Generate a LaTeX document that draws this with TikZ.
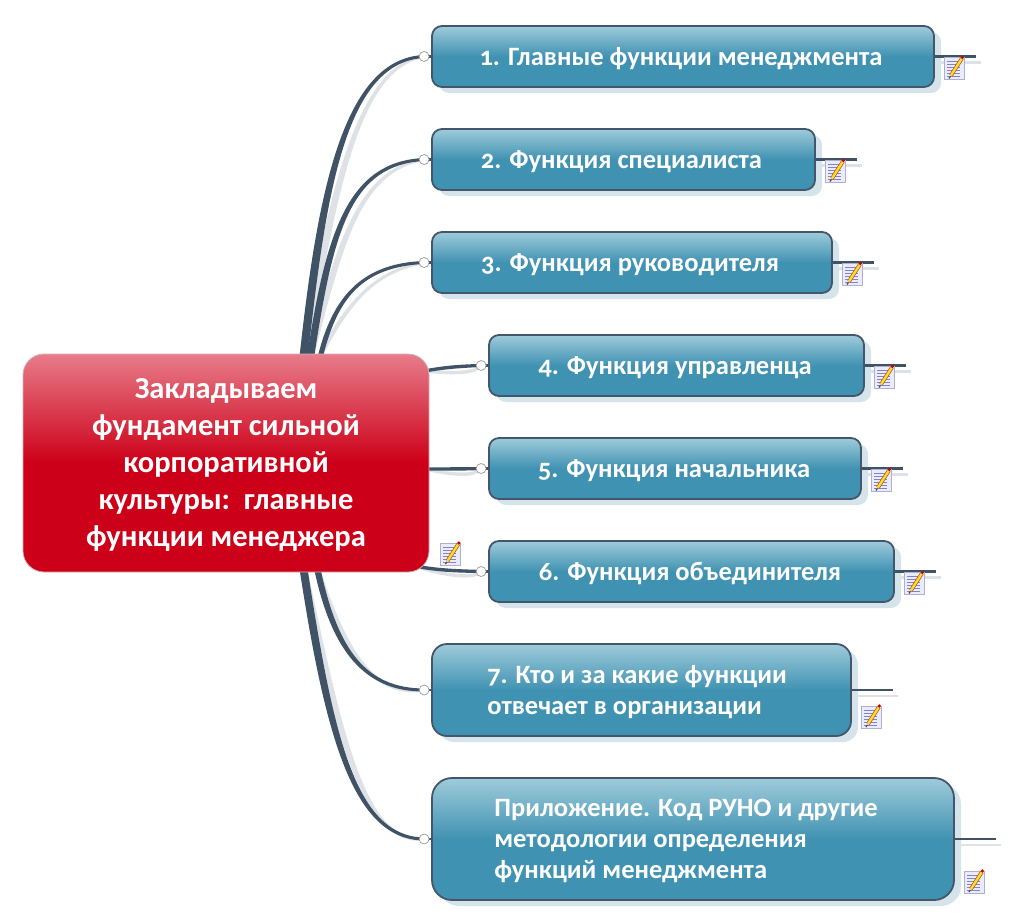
\documentclass[tikz,border=0pt]{standalone}
\usepackage{fontspec}
\setmainfont[Numbers=OldStyle]{Carlito}
\usepackage{tikz}
\usetikzlibrary{calc,shadows,backgrounds}
\definecolor{TopicTop}{RGB}{158,203,218}
\definecolor{TopicBase}{RGB}{64,146,178}
\definecolor{TopicEdge}{RGB}{68,86,107}
\definecolor{TopicShade}{RGB}{212,228,234}
\definecolor{RootTop}{RGB}{232,124,138}
\definecolor{RootBase}{RGB}{204,0,24}
\definecolor{WireDark}{RGB}{64,82,102}
\definecolor{WireLight}{RGB}{222,226,231}
\pgfdeclareverticalshading{topicfill}{100bp}{color(0bp)=(TopicBase); color(50bp)=(TopicBase); color(75bp)=(TopicTop); color(100bp)=(TopicTop)}
\pgfdeclareverticalshading{rootfill}{100bp}{color(0bp)=(RootBase); color(50bp)=(RootBase); color(75bp)=(RootTop); color(100bp)=(RootTop)}
\tikzset{
  rootbox/.style={rectangle, rounded corners=21pt, draw=RootTop!50!gray!60, line width=0.8pt, shading=rootfill,
    align=center, text=white, minimum width=406pt, minimum height=218pt, text depth=0pt,
    font=\fontsize{30.5}{37}\selectfont\bfseries},
  topic/.style={rectangle, rounded corners=10pt, draw=TopicEdge, line width=1.8pt, shading=topicfill,
    general shadow={shadow xshift=7pt, shadow yshift=-6pt, fill=TopicShade},
    align=left, text=white, minimum height=61pt, text depth=0pt,
    font=\fontsize{26.5}{31}\selectfont\bfseries},
  hub/.style={circle, draw=gray!80, fill=white, line width=0.7pt, inner sep=0pt, minimum size=10pt},
  wire/.style={line width=2.8pt, draw=WireDark},
  wireshade/.style={line width=2.2pt, draw=WireLight},
  noteicon/.pic={
    \draw[fill=blue!8, draw=blue!25!gray!50, line width=0.8pt] (-10,-11) rectangle (10,11);
    \foreach \ly in {-7,-4,-1,2,5,8}
      \draw[blue!40!gray!70, line width=0.9pt] (-7,\ly) -- (6,\ly);
    \draw[orange!70!black, line width=3.8pt] (-3,7) -- (8,-10);
    \draw[yellow!70!orange!80, line width=2.4pt] (-3,7) -- (8,-10);
    \draw[black!70, line width=1.2pt] (-5,10) -- (-3.5,8);
    \fill[red!80!black] (8.5,-11) circle (1.8);
  }
}
\begin{document}
\begin{tikzpicture}[x=1pt, y=-1pt]
  \useasboundingbox (0,0) rectangle (1024,920);
  \node[rootbox] (root) at (226,463) {Закладываем\\фундамент сильной\\корпоративной\\культуры:\ \ главные\\функции менеджера};
  \node[topic, minimum width=502pt] (t1) at (683,56.5) {1. Главные функции менеджмента\hspace*{4pt}};
  \node[topic, minimum width=383pt] (t2) at (623.5,159.5) {2. Функция специалиста\hspace*{4pt}};
  \node[topic, minimum width=400pt] (t3) at (632,262.5) {3. Функция руководителя\hspace*{4pt}};
  \node[topic, minimum width=375pt] (t4) at (676.5,365.5) {4. Функция управленца\hspace*{3pt}};
  \node[topic, minimum width=372pt] (t5) at (675,468.5) {5. Функция начальника\hspace*{2pt}};
  \node[topic, minimum width=405pt] (t6) at (691.5,571.5) {6. Функция объединителя\hspace*{3pt}};
  \node[topic, minimum width=419pt, minimum height=92pt, rounded corners=15pt] (t7) at (641.5,690) {7. Кто и за какие функции\hspace*{9pt}\\отвечает в организации};
  \node[topic, minimum width=522pt, minimum height=122pt, rounded corners=20pt] (t8) at (693,839) {Приложение. Код РУНО и другие\hspace*{14pt}\\методологии определения\\функций менеджмента};
  \foreach \i in {1,...,8} {
    \coordinate (e\i) at ($(t\i.east)+(41,0)$);
    \draw[wire] ($(t\i.west)+(-7,0)$) -- (t\i.west);
    \draw[wire] (t\i.east) -- (e\i);
    \node[hub] (h\i) at ($(t\i.west)+(-7,0)$) {};
  }
  \coordinate (r1) at (304,354);
  \coordinate (r2) at (311,354);
  \coordinate (r3) at (321,354);
  \coordinate (r4) at (425,371);
  \coordinate (r5) at (425,469);
  \coordinate (r6) at (415,566);
  \coordinate (r7) at (318,572);
  \coordinate (r8) at (304,572);
  \begin{scope}[on background layer]
    % tapered branches, the pale copy first
    \foreach \shx/\shy/\col in {11/7/WireLight, 0/0/WireDark} {
      \foreach \i/\ax/\ay/\bx/\by/\ux/\uy/\ee in {
        1/322/190/345/60/4.2/0/-1.5,
        2/330/230/350/163/3.6/0/-1.5,
        3/335/300/360/265/2.6/0/-1.5,
        4/445/367/465/366/0/1.7/-1.5,
        5/445/469/465/469/0/1.7/-1.5,
        6/440/571/465/571/0/1.7/-1.5,
        7/335/650/365/690/3.2/0/1.5,
        8/330/740/355/838/4/0/1.5} {
        \fill[\col, shift={(\shx,\shy)}] ($(r\i)-(\ux,\uy)$)
          .. controls ($(\ax,\ay)-(\ux,\uy)$) and ($(\bx,\by)+(-.3*\ux,1.2*\ee)$) .. ($(h\i)+(0,\ee)$)
          -- ($(h\i)-(0,\ee)$)
          .. controls ($(\bx,\by)-(-.3*\ux,1.2*\ee)$) and ($(\ax,\ay)+(\ux,\uy)$) .. ($(r\i)+(\ux,\uy)$) -- cycle;
      }
    }
    \foreach \i in {1,...,8}
      \draw[wireshade] ($(t\i.east)+(0,6)$) -- ($(e\i)+(5,6)$);
  \end{scope}
  \foreach \i/\dy in {1/12,2/12,3/12,4/12,5/12,6/12,7/27,8/43}
    \pic at ($(t\i.east)+(19,\dy)$) {noteicon};
  \pic at ($(root.east)+(21,91)$) {noteicon};
\end{tikzpicture}
\end{document}
